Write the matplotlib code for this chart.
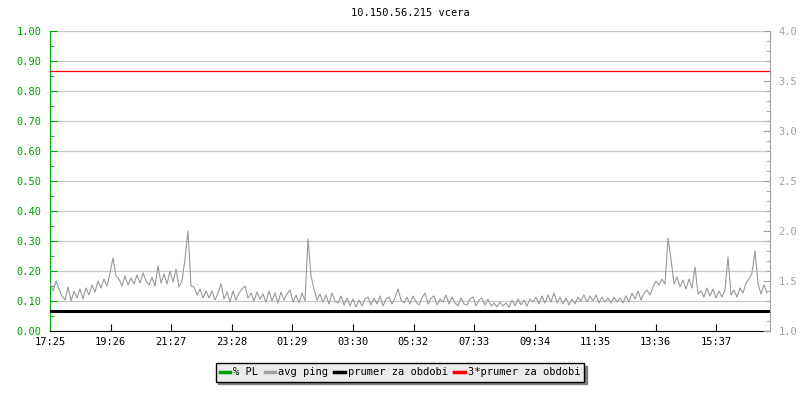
import numpy as np
import matplotlib
matplotlib.use('Agg')
import matplotlib.pyplot as plt
from matplotlib.lines import Line2D
from matplotlib.ticker import MultipleLocator, FormatStrFormatter

plt.rcParams['font.family'] = ['DejaVu Sans Mono']
plt.rcParams['font.size'] = 7.5

title = '10.150.56.215 vcera'
tick_labels = ['17:25', '19:26', '21:27', '23:28', '01:29', '03:30',
               '05:32', '07:33', '09:34', '11:35', '13:36', '15:37']
tick_minutes = [0, 121, 242, 363, 484, 605, 727, 848, 969, 1090, 1211, 1332]

# avg ping (right axis), one value per ~6 minutes
avg_ping = [
    1.48, 1.40, 1.50, 1.42,
    1.35, 1.31, 1.44, 1.30, 1.40,
    1.33, 1.42, 1.32, 1.43, 1.36,
    1.46, 1.39, 1.50, 1.43, 1.52, 1.45,
    1.58, 1.73, 1.55,
    1.52, 1.45, 1.55, 1.46, 1.53, 1.47,
    1.56, 1.48, 1.58, 1.50, 1.46,
    1.54, 1.45, 1.65, 1.48,
    1.57, 1.47, 1.60, 1.49, 1.62,
    1.44, 1.50,
    1.72, 2.00, 1.45,
    1.44, 1.36, 1.42, 1.33, 1.40,
    1.33, 1.40, 1.31, 1.38, 1.47, 1.32, 1.39, 1.29, 1.40, 1.31,
    1.38, 1.42, 1.45, 1.33, 1.38, 1.30, 1.39, 1.32,
    1.37, 1.29, 1.40, 1.30, 1.38, 1.28, 1.39, 1.31, 1.37, 1.41, 1.29, 1.36, 1.28, 1.38, 1.30,
    1.92, 1.55, 1.42, 1.31,
    1.37, 1.29, 1.36, 1.27, 1.38, 1.30, 1.28, 1.35, 1.26, 1.33, 1.25, 1.32, 1.24, 1.31, 1.25, 1.32,
    1.34, 1.26, 1.33, 1.27, 1.35, 1.25, 1.32, 1.34, 1.27, 1.33,
    1.42, 1.31, 1.28,
    1.34, 1.27, 1.35, 1.29, 1.26, 1.33, 1.38, 1.27, 1.33, 1.35, 1.26, 1.32,
    1.29, 1.36, 1.27, 1.34, 1.28, 1.25, 1.33, 1.27, 1.26, 1.32, 1.34, 1.25, 1.31, 1.33, 1.26,
    1.32, 1.25, 1.28, 1.24, 1.29, 1.25, 1.28, 1.24, 1.31, 1.25, 1.32, 1.26, 1.31, 1.25, 1.32,
    1.29, 1.34, 1.27, 1.35, 1.28, 1.36, 1.29, 1.38, 1.28, 1.34, 1.27, 1.33, 1.26, 1.32, 1.27,
    1.34, 1.30, 1.36, 1.29, 1.35, 1.30, 1.36, 1.28, 1.34, 1.29, 1.33, 1.28, 1.34, 1.29, 1.33,
    1.28, 1.35, 1.29, 1.38, 1.32, 1.40, 1.31, 1.38, 1.41, 1.36,
    1.44, 1.50, 1.46, 1.52, 1.47,
    1.93, 1.72, 1.47,
    1.54, 1.44, 1.51, 1.42, 1.52, 1.43,
    1.64, 1.37,
    1.40, 1.34, 1.43, 1.35, 1.42, 1.33, 1.40, 1.34, 1.41,
    1.74, 1.36,
    1.41, 1.34, 1.43, 1.38, 1.48, 1.52, 1.58, 1.80,
    1.48, 1.37, 1.46, 1.38,
]
prumer = 1.2
prumer3 = 3 * prumer
total_minutes = 1440

green = '#00a000'
gray = '#a0a0a0'

fig = plt.figure(figsize=(8, 4), dpi=100)
ax = fig.add_axes([50/800, 69/400, 720/800, 300/400])
ax2 = ax.twinx()

t = np.arange(len(avg_ping)) * total_minutes / len(avg_ping)

ax.set_xlim(0, total_minutes)
ax.set_ylim(0, 1)
ax2.set_ylim(1, 4)

ax.yaxis.set_major_locator(MultipleLocator(0.1))
ax.yaxis.set_minor_locator(MultipleLocator(0.05))
ax.yaxis.set_major_formatter(FormatStrFormatter('%.2f'))
ax2.yaxis.set_major_locator(MultipleLocator(0.5))
ax2.yaxis.set_minor_locator(MultipleLocator(0.1))
ax2.yaxis.set_major_formatter(FormatStrFormatter('%.1f'))
ax.set_xticks(tick_minutes)
ax.set_xticklabels(tick_labels)

ax.grid(axis='y', color='#c8c8c8', linewidth=0.9)
ax.set_axisbelow(True)

ax2.plot(t, avg_ping, color='#999999', linewidth=0.8)
ax2.axhline(prumer, color='black', linewidth=2.2)
ax2.axhline(prumer3, color='#ff0000', linewidth=0.9)

for a in (ax, ax2):
    a.spines['top'].set_visible(False)
ax.spines['left'].set_color(green)
ax.spines['right'].set_visible(False)
ax2.spines['left'].set_visible(False)
ax2.spines['bottom'].set_visible(False)
ax2.spines['right'].set_color(gray)

ax.tick_params(axis='y', which='major', direction='in', length=5, color=green,
               labelcolor=green, pad=6)
ax.tick_params(axis='y', which='minor', direction='in', length=3, color=green)
ax.tick_params(axis='x', direction='in', length=5, color='black', pad=4)
ax2.tick_params(axis='y', which='major', direction='in', length=5, color=gray,
                labelcolor=gray, pad=6)
ax2.tick_params(axis='y', which='minor', direction='in', length=3, color=gray)

fig.text(410/800, 1 - 13/400, title, ha='center', va='center', fontsize=7.5)

handles = [Line2D([], [], color=green, linewidth=2.5),
           Line2D([], [], color=gray, linewidth=2.5),
           Line2D([], [], color='black', linewidth=2.5),
           Line2D([], [], color='#ff0000', linewidth=2.5)]
labels = ['% PL', 'avg ping', 'prumer za obdobi', '3*prumer za obdobi']
leg = fig.legend(handles, labels, loc='upper center', bbox_to_anchor=(0.5, 1 - 358/400),
                 ncol=4, frameon=True, fancybox=False, handlelength=1.0,
                 handletextpad=0.3, columnspacing=0.6, borderpad=0.4,
                 shadow={'ox': 2, 'oy': -2, 'color': '#808080', 'alpha': 1})
leg.get_frame().set_facecolor('#ebebeb')
leg.get_frame().set_edgecolor('black')
leg.get_frame().set_alpha(1)

plt.savefig('out.png', dpi=100)
